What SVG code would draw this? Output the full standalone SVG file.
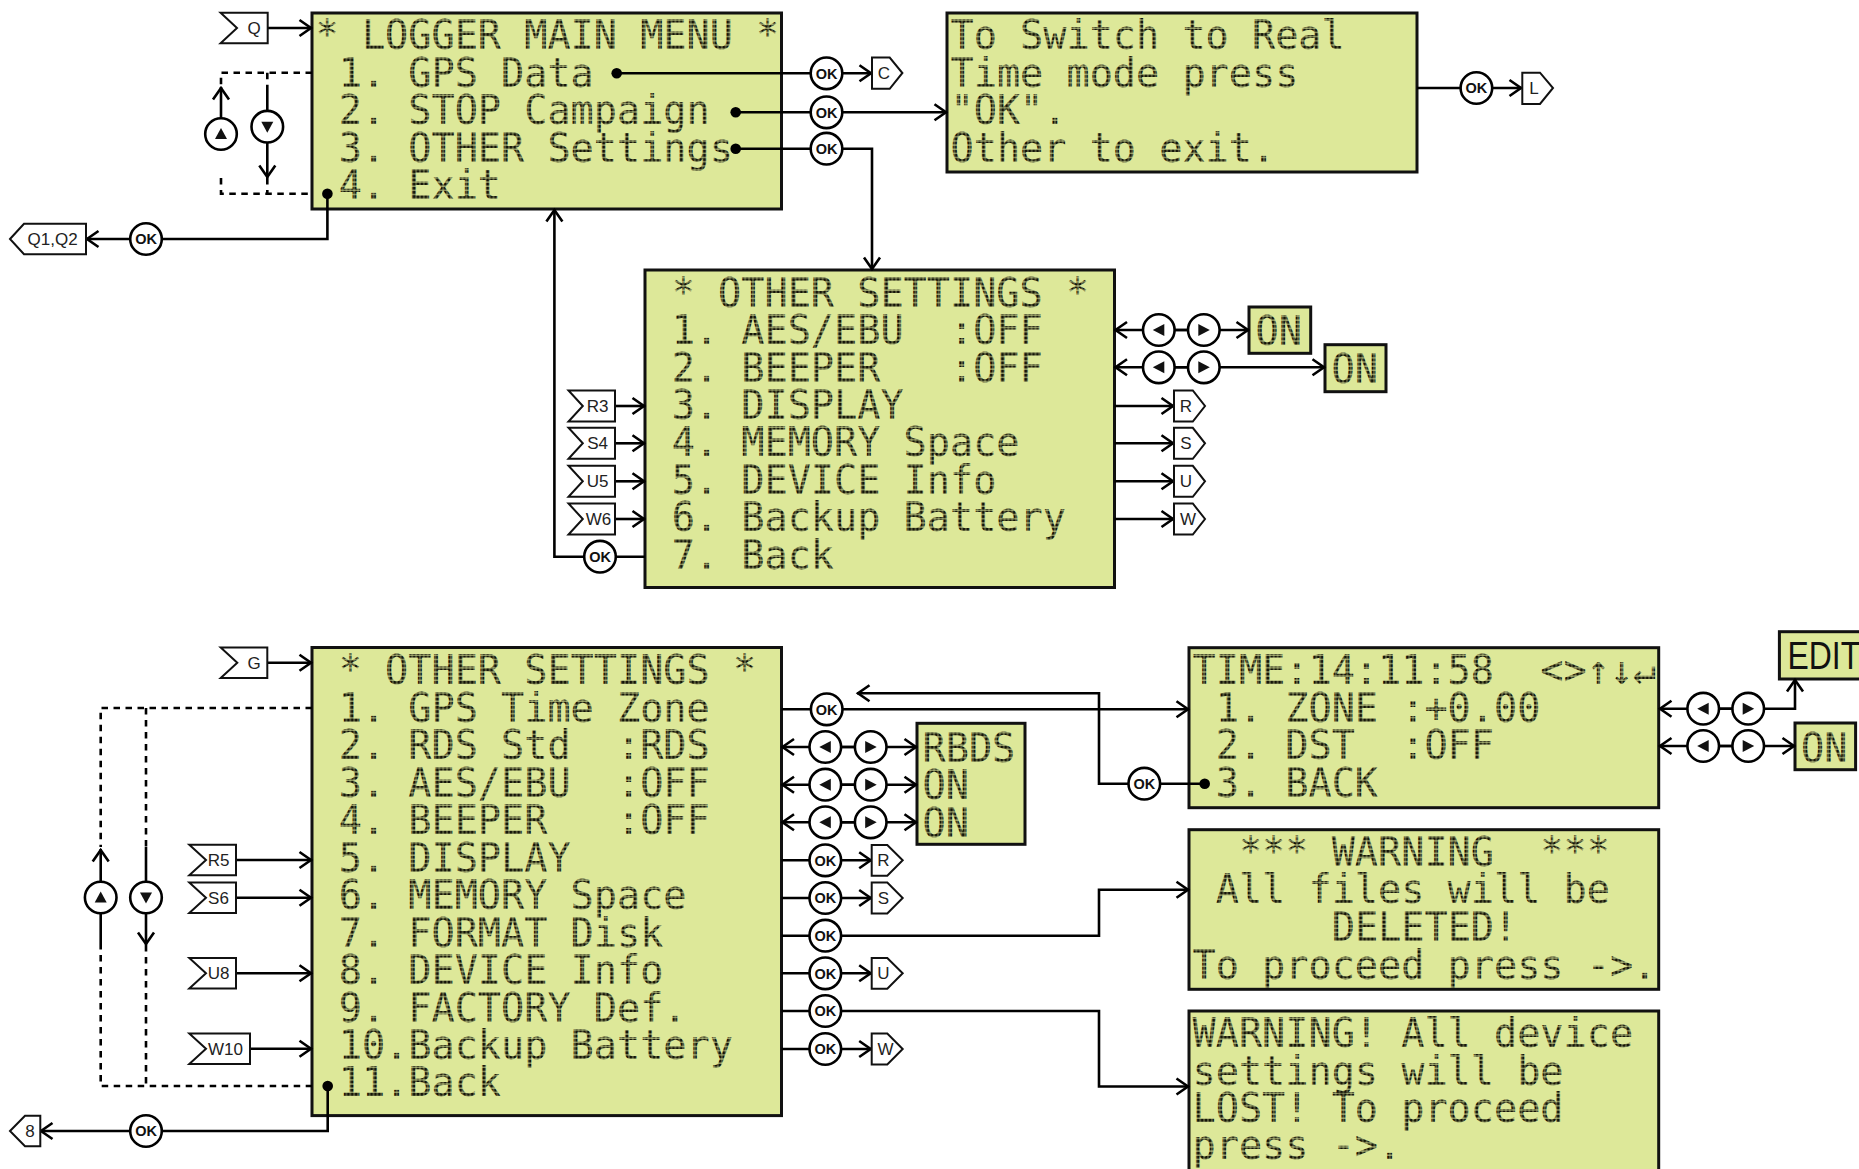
<svg xmlns="http://www.w3.org/2000/svg" width="1859" height="1169" viewBox="0 0 1859 1169">
<style>
text{font-family:"Liberation Sans",Arial,sans-serif;fill:#222;white-space:pre}
.lcd{font-family:"DejaVu Sans Mono","Liberation Mono",monospace;font-size:41px;fill:url(#dots)}
.box{fill:#dde899;stroke:#111;stroke-width:3}
.tag{fill:#fff;stroke:#111;stroke-width:2}
.tt{font-size:17px;text-anchor:middle}
.btn{fill:#fff;stroke:#000;stroke-width:2.6}
.ok{font-size:14.5px;font-weight:bold;text-anchor:middle;fill:#111}
.c path,.c line{fill:none;stroke:#000;stroke-width:2.6}
.c .a{marker-end:url(#arr)}
.c .d{stroke-dasharray:6.5 5.5;stroke-width:2.6}
.big{font-size:38.5px;fill:#111}
</style>
<defs>
<pattern id="dots" patternUnits="userSpaceOnUse" x="0" y="0" width="4.117" height="4.16"><rect x=".3" y=".5" width="3.5" height="3.3" fill="#141408"/></pattern>
<marker id="arr" markerUnits="userSpaceOnUse" markerWidth="18" markerHeight="20" refX="14" refY="10" orient="auto" overflow="visible"><path d="M1.5,2 L13,10 L1.5,18" fill="none" stroke="#000" stroke-width="2.6"/></marker>
<polygon id="tl" points="-6,0 5.5,-6 5.5,6" fill="#111"/>
<polygon id="tr" points="6,0 -5.5,-6 -5.5,6" fill="#111"/>
<polygon id="tu" points="0,-6 6,5 -6,5" fill="#111"/>
<polygon id="td" points="0,6 6,-5 -6,-5" fill="#111"/>
</defs>
<rect width="1859" height="1169" fill="#fff"/>
<g id="main-menu">
<rect class="box" x="312" y="13" width="469.5" height="196"/>
<text class="lcd" transform="translate(315.5,49) scale(.94,1)">* LOGGER MAIN MENU *</text>
<text class="lcd" transform="translate(338.7,86.8) scale(.94,1)">1. GPS Data</text>
<text class="lcd" transform="translate(338.7,124.3) scale(.94,1)">2. STOP Campaign</text>
<text class="lcd" transform="translate(338.7,161.6) scale(.94,1)">3. OTHER Settings</text>
<text class="lcd" transform="translate(338.7,198.6) scale(.94,1)">4. Exit</text>
</g>
<g id="realtime">
<rect class="box" x="947" y="13" width="470" height="159"/>
<text class="lcd" transform="translate(950.5,49) scale(.94,1)">To Switch to Real</text>
<text class="lcd" transform="translate(950.5,86.8) scale(.94,1)">Time mode press</text>
<text class="lcd" transform="translate(950.5,124.3) scale(.94,1)">"OK".</text>
<text class="lcd" transform="translate(950.5,161.6) scale(.94,1)">Other to exit.</text>
</g>
<g id="other-upper">
<rect class="box" x="645" y="270" width="469.5" height="317.5"/>
<text class="lcd" transform="translate(671.7,306.7) scale(.94,1)">* OTHER SETTINGS *</text>
<text class="lcd" transform="translate(671.7,344.1) scale(.94,1)">1. AES/EBU  :OFF</text>
<text class="lcd" transform="translate(671.7,381.5) scale(.94,1)">2. BEEPER   :OFF</text>
<text class="lcd" transform="translate(671.7,418.9) scale(.94,1)">3. DISPLAY</text>
<text class="lcd" transform="translate(671.7,456.3) scale(.94,1)">4. MEMORY Space</text>
<text class="lcd" transform="translate(671.7,493.7) scale(.94,1)">5. DEVICE Info</text>
<text class="lcd" transform="translate(671.7,531.1) scale(.94,1)">6. Backup Battery</text>
<text class="lcd" transform="translate(671.7,568.5) scale(.94,1)">7. Back</text>
</g>
<g id="other-lower">
<rect class="box" x="312" y="647.5" width="469.5" height="468.1"/>
<text class="lcd" transform="translate(338.7,684.4) scale(.94,1)">* OTHER SETTINGS *</text>
<text class="lcd" transform="translate(338.7,721.9) scale(.94,1)">1. GPS Time Zone</text>
<text class="lcd" transform="translate(338.7,759.3) scale(.94,1)">2. RDS Std  :RDS</text>
<text class="lcd" transform="translate(338.7,796.8) scale(.94,1)">3. AES/EBU  :OFF</text>
<text class="lcd" transform="translate(338.7,834.2) scale(.94,1)">4. BEEPER   :OFF</text>
<text class="lcd" transform="translate(338.7,871.7) scale(.94,1)">5. DISPLAY</text>
<text class="lcd" transform="translate(338.7,909.1) scale(.94,1)">6. MEMORY Space</text>
<text class="lcd" transform="translate(338.7,946.6) scale(.94,1)">7. FORMAT Disk</text>
<text class="lcd" transform="translate(338.7,984) scale(.94,1)">8. DEVICE Info</text>
<text class="lcd" transform="translate(338.7,1021.5) scale(.94,1)">9. FACTORY Def.</text>
<text class="lcd" transform="translate(338.7,1058.9) scale(.94,1)">10.Backup Battery</text>
<text class="lcd" transform="translate(338.7,1096.4) scale(.94,1)">11.Back</text>
</g>
<g id="time">
<rect class="box" x="1189" y="647.7" width="469.7" height="160"/>
<text class="lcd" transform="translate(1192.5,684.3) scale(.94,1)">TIME:14:11:58  &lt;&gt;↑↓↵</text>
<text class="lcd" transform="translate(1215.7,721.7) scale(.94,1)">1. ZONE :+0.00</text>
<text class="lcd" transform="translate(1215.7,759) scale(.94,1)">2. DST  :OFF</text>
<text class="lcd" transform="translate(1215.7,796.5) scale(.94,1)">3. BACK</text>
</g>
<g id="warning1">
<rect class="box" x="1189" y="829.7" width="469.7" height="159.6"/>
<text class="lcd" transform="translate(1238.9,865.7) scale(.94,1)">*** WARNING  ***</text>
<text class="lcd" transform="translate(1215.7,903.3) scale(.94,1)">All files will be</text>
<text class="lcd" transform="translate(1331.7,940.7) scale(.94,1)">DELETED!</text>
<text class="lcd" transform="translate(1192.5,978.7) scale(.94,1)">To proceed press -&gt;.</text>
</g>
<g id="warning2">
<rect class="box" x="1189" y="1011" width="469.7" height="170"/>
<text class="lcd" transform="translate(1192.5,1047.3) scale(.94,1)">WARNING! All device</text>
<text class="lcd" transform="translate(1192.5,1085) scale(.94,1)">settings will be</text>
<text class="lcd" transform="translate(1192.5,1122.3) scale(.94,1)">LOST! To proceed</text>
<text class="lcd" transform="translate(1192.5,1159.3) scale(.94,1)">press -&gt;.</text>
</g>
<g id="rbds">
<rect class="box" x="917" y="723.3" width="108" height="121"/>
<text class="lcd" transform="translate(922.5,761.7) scale(.94,1)">RBDS</text>
<text class="lcd" transform="translate(922.5,799.3) scale(.94,1)">ON</text>
<text class="lcd" transform="translate(922.5,836.7) scale(.94,1)">ON</text>
</g>
<g id="on1"><rect class="box" x="1249" y="307" width="61.7" height="46.3"/><text class="lcd" transform="translate(1255.5,345) scale(.94,1)">ON</text></g>
<g id="on2"><rect class="box" x="1325" y="344.7" width="61" height="47"/><text class="lcd" transform="translate(1331.5,382.7) scale(.94,1)">ON</text></g>
<g id="on3"><rect class="box" x="1795" y="723" width="60.6" height="46.7"/><text class="lcd" transform="translate(1801,761.7) scale(.94,1)">ON</text></g>
<g id="edit"><rect class="box" x="1779.4" y="631.7" width="100" height="47.3"/><text class="big" transform="translate(1787.5,669.3) scale(.83,1)">EDIT</text></g>
<g id="connectors" class="c">
<path class="a" d="M267.7,28H312"/>
<path class="d" d="M312,72.7H221V87M267.3,72.7V87M221,178V193.7H312M267.3,178V193.7"/>
<path class="a" d="M221,150V87"/>
<path class="a" d="M267.3,87V178"/>
<path class="a" d="M327.4,193.7V239H86"/>
<path class="a" d="M645,556.7H554.4V209"/>
<path class="a" d="M616.7,73.3H872"/>
<path class="a" d="M735.7,112.3H947"/>
<path class="a" d="M735.7,148.7H872V270"/>
<path class="a" d="M1417,88H1522"/>
<path class="a" d="M1203.8,330H1114.5"/>
<path class="a" d="M1158.8,330H1249"/>
<path class="a" d="M1203.8,367.3H1114.5"/>
<path class="a" d="M1158.8,367.3H1325"/>
<path class="a" d="M1114.5,406H1174"/>
<path class="a" d="M1114.5,443.3H1174"/>
<path class="a" d="M1114.5,481.3H1174"/>
<path class="a" d="M1114.5,519H1174"/>
<path class="a" d="M615,406H645"/>
<path class="a" d="M615,443.3H645"/>
<path class="a" d="M615,481.3H645"/>
<path class="a" d="M615,519H645"/>
<path class="a" d="M267.3,662.7H312"/>
<path class="d" d="M312,708H100.7V847M146,708V847M100.7,943V1086H312M146,945V1086"/>
<path class="a" d="M100.7,943V849"/>
<path class="a" d="M146,847V945"/>
<path class="a" d="M236,860H312"/>
<path class="a" d="M236,897.7H312"/>
<path class="a" d="M236,973.3H312"/>
<path class="a" d="M250,1048.7H312"/>
<path class="a" d="M327.7,1086V1131H40"/>
<path class="a" d="M781.5,709.3H1189"/>
<path class="a" d="M1204.7,783.7H1099V693.3H857"/>
<path class="a" d="M870.7,747H781.5"/>
<path class="a" d="M825.3,747H917"/>
<path class="a" d="M870.7,784.7H781.5"/>
<path class="a" d="M825.3,784.7H917"/>
<path class="a" d="M870.7,822.3H781.5"/>
<path class="a" d="M825.3,822.3H917"/>
<path class="a" d="M781.5,860.3H871.7"/>
<path class="a" d="M781.5,898H871.7"/>
<path class="a" d="M781.5,935.7H1099V889.7H1189"/>
<path class="a" d="M781.5,973.3H871.7"/>
<path class="a" d="M781.5,1011H1099V1086.5H1189"/>
<path class="a" d="M781.5,1049H871.7"/>
<path class="a" d="M1748.2,708.7H1659"/>
<path class="a" d="M1703.2,708.7H1795V679"/>
<path class="a" d="M1748.2,746H1659"/>
<path class="a" d="M1703.2,746H1795"/>
<circle cx="616.7" cy="73.3" r="5.3"/><circle cx="735.7" cy="112.3" r="5.3"/><circle cx="735.7" cy="148.7" r="5.3"/><circle cx="327.4" cy="193.7" r="5.3"/><circle cx="327.7" cy="1086" r="5.3"/><circle cx="1204.7" cy="783.7" r="5.3"/>
</g>
<g id="tag-q"><path class="tag" d="M220.6,12.7H267.7V43.3H220.6L237,28Z"/><text class="tt" x="254" y="34">Q</text></g>
<g id="tag-q1q2"><path class="tag" d="M10,239L24,223.7H86V254.3H24Z"/><text class="tt" x="52.6" y="245">Q1,Q2</text></g>
<g id="tag-c"><path class="tag" d="M872,57.5H889.7L902.4,73L889.7,88.8H872Z"/><text class="tt" x="884" y="79">C</text></g>
<g id="tag-l"><path class="tag" d="M1522.3,72.7H1540L1553,88L1540,104H1522.3Z"/><text class="tt" x="1534" y="94">L</text></g>
<g id="tag-r3"><path class="tag" d="M568.5,390.5H615V421.5H568.5L582.8,406Z"/><text class="tt" x="597.6" y="412">R3</text></g>
<g id="tag-s4"><path class="tag" d="M568.5,427.8H615V458.8H568.5L582.8,443.3Z"/><text class="tt" x="597.6" y="449.3">S4</text></g>
<g id="tag-u5"><path class="tag" d="M568.5,465.8H615V496.8H568.5L582.8,481.3Z"/><text class="tt" x="597.6" y="487.3">U5</text></g>
<g id="tag-w6"><path class="tag" d="M568.5,503.5H615V534.5H568.5L582.8,519Z"/><text class="tt" x="598.5" y="525">W6</text></g>
<g id="tag-r"><path class="tag" d="M1174,390.5H1192.8L1205,406L1192.8,421.5H1174Z"/><text class="tt" x="1186" y="412">R</text></g>
<g id="tag-s"><path class="tag" d="M1174,427.8H1192.8L1205,443.3L1192.8,458.8H1174Z"/><text class="tt" x="1186" y="449.3">S</text></g>
<g id="tag-u"><path class="tag" d="M1174,465.8H1192.8L1205,481.3L1192.8,496.8H1174Z"/><text class="tt" x="1186" y="487.3">U</text></g>
<g id="tag-w"><path class="tag" d="M1174,503.5H1192.8L1205,519L1192.8,534.5H1174Z"/><text class="tt" x="1188" y="525">W</text></g>
<g id="tag-g"><path class="tag" d="M220.7,647.5H267.3V678H220.7L237.3,662.7Z"/><text class="tt" x="254" y="668.7">G</text></g>
<g id="tag-r5"><path class="tag" d="M189.3,844.7H236V875.3H189.3L206,860Z"/><text class="tt" x="218.5" y="866">R5</text></g>
<g id="tag-s6"><path class="tag" d="M189.3,882.4H236V913H189.3L206,897.7Z"/><text class="tt" x="218.5" y="903.7">S6</text></g>
<g id="tag-u8"><path class="tag" d="M189.3,958H236V988.6H189.3L206,973.3Z"/><text class="tt" x="218.5" y="979.3">U8</text></g>
<g id="tag-w10"><path class="tag" d="M189.3,1033.4H250V1064H189.3L206,1048.7Z"/><text class="tt" x="225.5" y="1054.7">W10</text></g>
<g id="tag-8"><path class="tag" d="M10,1131L25,1115.7H40.3V1146.3H25Z"/><text class="tt" x="30" y="1137">8</text></g>
<g id="tag-r2"><path class="tag" d="M871.7,845H887.3L902.7,860.3L887.3,875.7H871.7Z"/><text class="tt" x="883.5" y="866.3">R</text></g>
<g id="tag-s2"><path class="tag" d="M871.7,882.6H887.3L902.7,898L887.3,913.4H871.7Z"/><text class="tt" x="883.5" y="904">S</text></g>
<g id="tag-u2"><path class="tag" d="M871.7,958H887.3L902.7,973.3L887.3,988.7H871.7Z"/><text class="tt" x="883.5" y="979.3">U</text></g>
<g id="tag-w2"><path class="tag" d="M871.7,1033.6H887.3L902.7,1049L887.3,1064.4H871.7Z"/><text class="tt" x="885.5" y="1055">W</text></g>
<g id="ok-q"><circle class="btn" cx="146" cy="239" r="15.8"/><text class="ok" x="146" y="244.2">OK</text></g>
<g id="ok-gps"><circle class="btn" cx="826.5" cy="73.3" r="15.8"/><text class="ok" x="826.5" y="78.5">OK</text></g>
<g id="ok-stop"><circle class="btn" cx="826.5" cy="112.3" r="15.8"/><text class="ok" x="826.5" y="117.5">OK</text></g>
<g id="ok-other"><circle class="btn" cx="826.5" cy="148.7" r="15.8"/><text class="ok" x="826.5" y="153.9">OK</text></g>
<g id="ok-real"><circle class="btn" cx="1476.4" cy="88" r="15.8"/><text class="ok" x="1476.4" y="93.2">OK</text></g>
<g id="ok-back"><circle class="btn" cx="600" cy="556.7" r="15.8"/><text class="ok" x="600" y="561.9">OK</text></g>
<g id="ok-8"><circle class="btn" cx="146" cy="1131" r="15.8"/><text class="ok" x="146" y="1136.2">OK</text></g>
<g id="ok-l1"><circle class="btn" cx="826.7" cy="709.3" r="15.8"/><text class="ok" x="826.7" y="714.5">OK</text></g>
<g id="ok-l5"><circle class="btn" cx="825.3" cy="860.3" r="15.8"/><text class="ok" x="825.3" y="865.5">OK</text></g>
<g id="ok-l6"><circle class="btn" cx="825.3" cy="898" r="15.8"/><text class="ok" x="825.3" y="903.2">OK</text></g>
<g id="ok-l7"><circle class="btn" cx="825.3" cy="935.7" r="15.8"/><text class="ok" x="825.3" y="940.9">OK</text></g>
<g id="ok-l8"><circle class="btn" cx="825.3" cy="973.3" r="15.8"/><text class="ok" x="825.3" y="978.5">OK</text></g>
<g id="ok-l9"><circle class="btn" cx="825.3" cy="1011" r="15.8"/><text class="ok" x="825.3" y="1016.2">OK</text></g>
<g id="ok-l10"><circle class="btn" cx="825.3" cy="1049" r="15.8"/><text class="ok" x="825.3" y="1054.2">OK</text></g>
<g id="ok-t3"><circle class="btn" cx="1144.3" cy="783.7" r="15.8"/><text class="ok" x="1144.3" y="788.9">OK</text></g>
<g id="up-a"><circle class="btn" cx="221" cy="134" r="15.8"/><use href="#tu" x="221" y="134"/></g>
<g id="down-a"><circle class="btn" cx="267.3" cy="126.7" r="15.8"/><use href="#td" x="267.3" y="126.7"/></g>
<g id="up-b"><circle class="btn" cx="100.7" cy="897.5" r="15.8"/><use href="#tu" x="100.7" y="897.5"/></g>
<g id="down-b"><circle class="btn" cx="146" cy="897.5" r="15.8"/><use href="#td" x="146" y="897.5"/></g>
<g id="lr1"><circle class="btn" cx="1158.8" cy="330" r="15.8"/><use href="#tl" x="1158.8" y="330"/><circle class="btn" cx="1203.8" cy="330" r="15.8"/><use href="#tr" x="1203.8" y="330"/></g>
<g id="lr2"><circle class="btn" cx="1158.8" cy="367.3" r="15.8"/><use href="#tl" x="1158.8" y="367.3"/><circle class="btn" cx="1203.8" cy="367.3" r="15.8"/><use href="#tr" x="1203.8" y="367.3"/></g>
<g id="lr3"><circle class="btn" cx="825.3" cy="747" r="15.8"/><use href="#tl" x="825.3" y="747"/><circle class="btn" cx="870.7" cy="747" r="15.8"/><use href="#tr" x="870.7" y="747"/></g>
<g id="lr4"><circle class="btn" cx="825.3" cy="784.7" r="15.8"/><use href="#tl" x="825.3" y="784.7"/><circle class="btn" cx="870.7" cy="784.7" r="15.8"/><use href="#tr" x="870.7" y="784.7"/></g>
<g id="lr5"><circle class="btn" cx="825.3" cy="822.3" r="15.8"/><use href="#tl" x="825.3" y="822.3"/><circle class="btn" cx="870.7" cy="822.3" r="15.8"/><use href="#tr" x="870.7" y="822.3"/></g>
<g id="lr6"><circle class="btn" cx="1703.2" cy="708.7" r="15.8"/><use href="#tl" x="1703.2" y="708.7"/><circle class="btn" cx="1748.2" cy="708.7" r="15.8"/><use href="#tr" x="1748.2" y="708.7"/></g>
<g id="lr7"><circle class="btn" cx="1703.2" cy="746" r="15.8"/><use href="#tl" x="1703.2" y="746"/><circle class="btn" cx="1748.2" cy="746" r="15.8"/><use href="#tr" x="1748.2" y="746"/></g>
</svg>
